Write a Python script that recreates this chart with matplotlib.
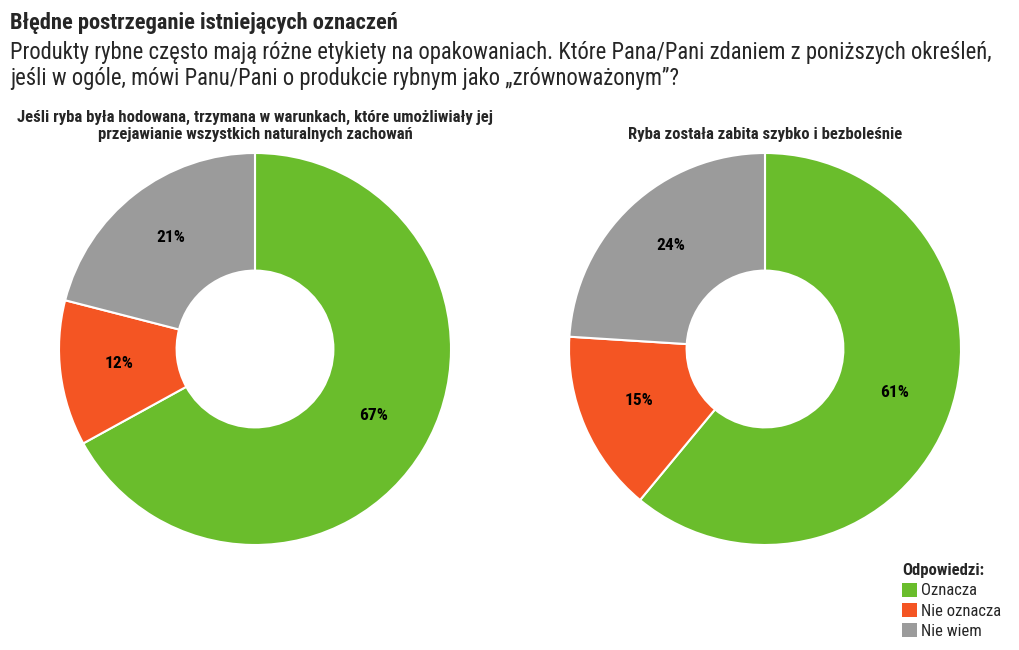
import matplotlib
matplotlib.use("Agg")
import matplotlib.pyplot as plt
from matplotlib.patches import Patch
from matplotlib.transforms import offset_copy

FONT = ['Roboto Condensed', 'Liberation Sans Narrow', 'Roboto', 'DejaVu Sans']
plt.rcParams['font.family'] = FONT

title = "Błędne postrzeganie istniejących oznaczeń"
subtitle_lines = ["Produkty rybne często mają różne etykiety na opakowaniach. Które Pana/Pani zdaniem z poniższych określeń,",
                  "jeśli w ogóle, mówi Panu/Pani o produkcie rybnym jako „zrównoważonym”?"]
categories = ["Oznacza", "Nie oznacza", "Nie wiem"]
chart_titles = [["Jeśli ryba była hodowana, trzymana w warunkach, które umożliwiały jej",
                 "przejawianie wszystkich naturalnych zachowań"],
                ["Ryba została zabita szybko i bezboleśnie"]]
values_left = [67, 12, 21]
values_right = [61, 15, 24]
colors = ["#6abd2c", "#f45523", "#9b9b9b"]
legend_title = "Odpowiedzi:"

W, H = 1020, 650
fig = plt.figure(figsize=(W / 100, H / 100), dpi=100)
fig.patch.set_facecolor("white")
TXT = "#262626"

fig.text(10 / W, 1 - 23 / H, title, fontsize=16.2, fontweight="bold", color=TXT, va="center", ha="left")
for i, line in enumerate(subtitle_lines):
    fig.text(10 / W, 1 - (53 + 26 * i) / H, line, fontsize=16.3, color=TXT, va="center", ha="left")

R = 196
for cx, vals, ttl in [(255, values_left, chart_titles[0]), (765, values_right, chart_titles[1])]:
    ax = fig.add_axes([(cx - R) / W, (H - 349 - R) / H, 2 * R / W, 2 * R / H])
    wedges, texts, autotexts = ax.pie(vals, colors=colors, startangle=90, counterclock=False,
           wedgeprops=dict(width=0.6, edgecolor="white", linewidth=1.5),
           autopct=lambda p: f"{p:.0f}%", pctdistance=0.7,
           textprops=dict(fontsize=12.5, fontweight="bold", color="black"))
    for t in autotexts:
        t.set_transform(offset_copy(t.get_transform(), fig=fig, y=3, units="dots"))
    ax.set_xlim(-1, 1)
    ax.set_ylim(-1, 1)
    ax.set_aspect("equal")
    ax.axis("off")
    n = len(ttl)
    for j, line in enumerate(ttl):
        y = 134 - 17 * (n - 1 - j)
        fig.text(cx / W, 1 - y / H, line, fontsize=12, fontweight="bold", color=TXT,
                 ha="center", va="center")

handles = [Patch(facecolor=c, edgecolor="none") for c in colors]
leg = fig.legend(handles, categories, title=legend_title, loc="upper left",
                 bbox_to_anchor=(897 / W, 1 - 558 / H), frameon=False,
                 fontsize=12, title_fontproperties=dict(weight="bold", size=12),
                 handlelength=0.9, handleheight=0.9, handletextpad=0.25,
                 labelspacing=0.28, borderaxespad=0, borderpad=0.3)
leg._legend_box.align = "left"
for t in leg.get_texts():
    t.set_color(TXT)
leg.get_title().set_color(TXT)

fig.savefig("out.png", dpi=100, facecolor="white")
